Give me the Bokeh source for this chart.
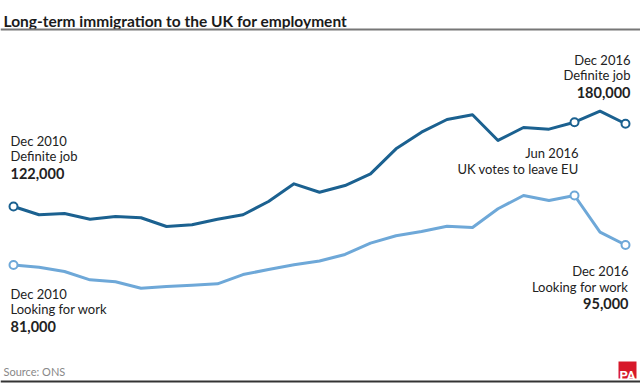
from bokeh.plotting import figure
from bokeh.models import Range1d, Label, Span, BoxAnnotation, ColumnDataSource
from bokeh.embed import file_html
from bokeh.resources import INLINE

# ---------------- data ----------------
quarters = ["Dec 2010", "Mar 2011", "Jun 2011", "Sep 2011", "Dec 2011",
            "Mar 2012", "Jun 2012", "Sep 2012", "Dec 2012",
            "Mar 2013", "Jun 2013", "Sep 2013", "Dec 2013",
            "Mar 2014", "Jun 2014", "Sep 2014", "Dec 2014",
            "Mar 2015", "Jun 2015", "Sep 2015", "Dec 2015",
            "Mar 2016", "Jun 2016", "Sep 2016", "Dec 2016"]
definite_job = [122000, 116200, 117100, 113100, 115000, 114100, 108000, 109200,
                113100, 116200, 125500, 137900, 132000, 136700, 144900, 162400,
                174100, 183000, 186300, 168300, 177400, 176200, 181100, 188800,
                180000]
looking_for_work = [81000, 79400, 76400, 70600, 69200, 64700, 65900, 66800,
                    67800, 74300, 77800, 81100, 83800, 88400, 96300, 101500,
                    104500, 108200, 107300, 120400, 129700, 126200, 129700,
                    104000, 95000]
marked = ["Dec 2010", "Jun 2016", "Dec 2016"]

title_text = "Long-term immigration to the UK for employment"
source_text = "Source: ONS"
left_top = ["Dec 2010", "Definite job", "122,000"]
left_bottom = ["Dec 2010", "Looking for work", "81,000"]
right_top = ["Dec 2016", "Definite job", "180,000"]
right_mid = ["Jun 2016", "UK votes to leave EU"]
right_bottom = ["Dec 2016", "Looking for work", "95,000"]

DARK = "#1b6190"
LIGHT = "#6ea8d8"
BODY_FONT = "Lato"
TITLE_FONT = "Lato"

xs = list(range(len(quarters)))
src = ColumnDataSource(dict(x=xs, dj=definite_job, lw=looking_for_work))
mk_idx = [quarters.index(q) for q in marked]
msrc = ColumnDataSource(dict(x=mk_idx,
                             dj=[definite_job[i] for i in mk_idx],
                             lw=[looking_for_work[i] for i in mk_idx]))

W, H = 640, 384
p = figure(width=W, height=H, output_backend="svg", toolbar_location=None,
           x_range=Range1d(-0.51, 24.588), y_range=Range1d(-2780, 266400),
           x_axis_location=None, y_axis_location=None,
           min_border=0, outline_line_color=None)
p.grid.visible = False
p.background_fill_color = "white"
p.border_fill_color = "white"

p.line("x", "dj", source=src, line_color=DARK, line_width=3, line_join="round")
p.line("x", "lw", source=src, line_color=LIGHT, line_width=3, line_join="round")
p.scatter("x", "dj", source=msrc, size=8, fill_color="white", line_color=DARK, line_width=2)
p.scatter("x", "lw", source=msrc, size=8, fill_color="white", line_color=LIGHT, line_width=2)


def lab(txt, px, py, size=13, bold=False, align="left", color="#222222", font=BODY_FONT):
    p.add_layout(Label(x=px, y=H - py, x_units="screen", y_units="screen",
                       text=txt, text_font=font, text_font_size=f"{size}px",
                       text_font_style="bold" if bold else "normal",
                       text_align=align, text_baseline="alphabetic",
                       text_color=color))


def block(lines, px, py0, align):
    ys = [py0, py0 + 15.5, py0 + 32.5]
    for i, t in enumerate(lines):
        bold = (i == 2)
        lab(t, px, ys[i], size=14.5 if bold else 13, bold=bold, align=align)


# title
lab(title_text, 3, 20, size=15.5, bold=True, color="#1a1a1a", font=TITLE_FONT)
p.add_layout(Span(location=H - 29, location_units="screen", dimension="width",
                  line_color="#777777", line_width=2))

block(left_top, 10, 140, "left")
block(left_bottom, 10, 293, "left")
block(right_top, 630, 59, "right")
lab(right_mid[0], 578, 152, align="right")
lab(right_mid[1], 578, 168, align="right")
block(right_bottom, 628, 270.5, "right")

# footer
lab(source_text, 3, 371, size=11, color="#888888")
p.add_layout(Span(location=3, location_units="screen", dimension="width",
                  line_color="#333333", line_width=2))
p.add_layout(BoxAnnotation(left=618, right=636, bottom=6, top=23,
                           left_units="screen", right_units="screen",
                           bottom_units="screen", top_units="screen",
                           fill_color="#d7182a", fill_alpha=1, line_color=None))
p.add_layout(Label(x=627, y=9, x_units="screen", y_units="screen", text="PA",
                   text_font="Roboto", text_font_size="13px", text_font_style="bold",
                   text_align="center", text_baseline="alphabetic", text_color="white"))

open("out.html", "w").write(file_html(p, INLINE))
